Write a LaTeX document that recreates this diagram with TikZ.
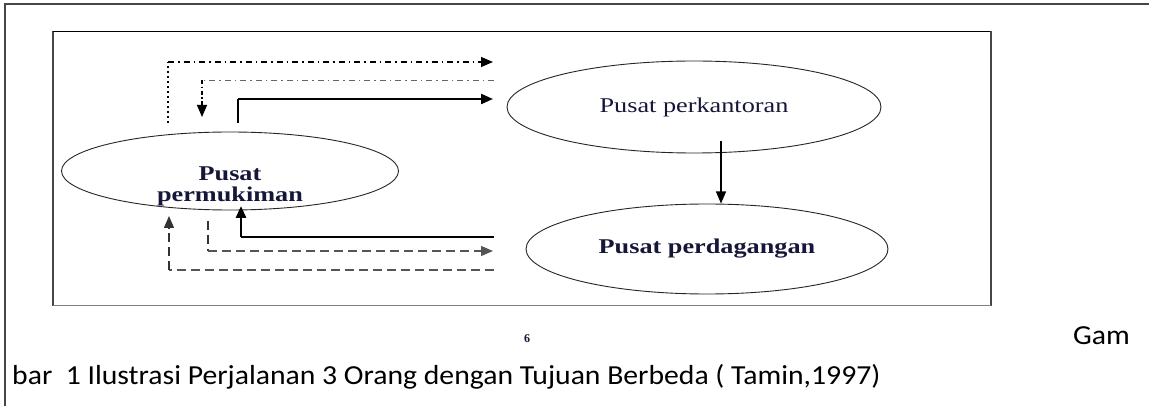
\documentclass[tikz,border=0pt]{standalone}
\usepackage{fontspec}
\usetikzlibrary{shapes.geometric,arrows.meta}
\newfontfamily\figserif[FakeStretch=1.25]{Liberation Serif}
\newfontfamily\pgfont{Liberation Serif}
\newfontfamily\capfont[FakeStretch=1.08]{Carlito}
\definecolor{navy}{RGB}{22,22,58}
\definecolor{framegray}{RGB}{70,70,70}
\definecolor{dashgray}{RGB}{85,85,85}
\begin{document}
\begin{tikzpicture}[x=1pt,y=-1pt,
  place/.style={ellipse,draw=black!85,line width=0.9pt,inner sep=0pt},
  lbl/.style={font=\figserif\fontsize{21}{18.5}\selectfont,text=navy,align=center,inner sep=0pt},
  tip/.style={-{Triangle[length=12pt,width=10pt]}},
  heavy/.style={line width=2.2pt,line cap=butt},
  dashdot/.style={line width=1.1pt,dash pattern=on 6pt off 4pt on 1.5pt off 4pt},
  dotline/.style={line width=1.3pt,dash pattern=on 2pt off 3pt},
  longdash/.style={line width=1.2pt,draw=dashgray,dash pattern=on 9pt off 5pt},
  thin arrow/.style={line width=1.1pt},
  captext/.style={font=\capfont\fontsize{27.5}{32}\selectfont,inner sep=0pt,anchor=base west}
]
\useasboundingbox (0,0) rectangle (1149,406);
\fill[white] (0,0) rectangle (1149,406);

% outer frame (top and left)
\draw[line width=2pt,framegray] (4.5,406) -- (4.5,4.5) -- (1149,4.5);

% inner figure frame
\draw[line width=2pt,framegray] (53,31.5) -- (53,306);
\draw[line width=1.2pt,black] (52.5,31.5) -- (991,31.5);
\draw[line width=1.8pt,framegray] (991,31.5) -- (991,306);
\draw[line width=1.6pt,black!50] (53,305.5) -- (991,305.5);

% centres
\node[place,minimum width=337pt,minimum height=78pt] (perm) at (230,171) {};
\node[lbl,font=\figserif\fontsize{21}{21}\selectfont] (permt) at (230,186) {\bfseries Pusat\\\bfseries permukiman};
\node[place,minimum width=374pt,minimum height=92pt] (kant) at (694,107) {};
\node[lbl] (kantt) at (694,107) {Pusat perkantoran};
\node[place,minimum width=362pt,minimum height=90pt] (dag) at (707,249) {};
\node[lbl] (dagt) at (707,249) {\bfseries Pusat perdagangan};

% route coordinates
\coordinate (a1) at (168,123);
\coordinate (a2) at (168,62);
\coordinate (a3) at (493,62);
\coordinate (b1) at (494,80.5);
\coordinate (b2) at (202,80.5);
\coordinate (b3) at (202,117);
\coordinate (c1) at (238,123);
\coordinate (c2) at (238,99);
\coordinate (c3) at (493,99);
\coordinate (k1) at (721,141);
\coordinate (k2) at (721,203.5);
\coordinate (d1) at (494,237);
\coordinate (d2) at (241,237);
\coordinate (d3) at (241,206);
\coordinate (e1) at (208,221);
\coordinate (e2) at (208,251);
\coordinate (e3) at (493,251);
\coordinate (f1) at (494,270);
\coordinate (f2) at (169,270);
\coordinate (f3) at (169,216);

% person 1: dash-dot routes
\draw[dotline] (a1) -- (a2);
\draw[dashdot,tip] (a2) -- (a3);
\draw[dashdot,draw=black!60] (b1) -- (b2);
\draw[dashdot,tip,dash pattern=on 4pt off 2.5pt on 1.5pt off 2.5pt] (b2) -- (b3);

% person 2: solid routes
\draw[heavy,line width=2.8pt] (c1) -- (c2);
\draw[heavy,tip] (c2) -- (c3);
\draw[thin arrow,tip] (k1) -- (k2);
\draw[heavy] (d1) -- (d2);
\draw[heavy,line width=2.8pt,tip] (d2) -- (d3);

% person 3: dashed routes
\draw[longdash,draw=black!80] (e1) -- (e2);
\draw[longdash,tip] (e2) -- (e3);
\draw[longdash] (f1) -- (f2);
\draw[longdash,draw=black!80,tip] (f2) -- (f3);

% page number and caption
\node[font=\pgfont\bfseries\fontsize{12}{14}\selectfont,text=navy,inner sep=0pt,anchor=base] (pg) at (527,342) {6};
\node[captext] (gam) at (1073,344) {Gam};
\node[captext] (cap) at (12,384) {bar\ \ 1 Ilustrasi Perjalanan 3 Orang dengan Tujuan Berbeda ( Tamin,1997)};
\end{tikzpicture}
\end{document}
